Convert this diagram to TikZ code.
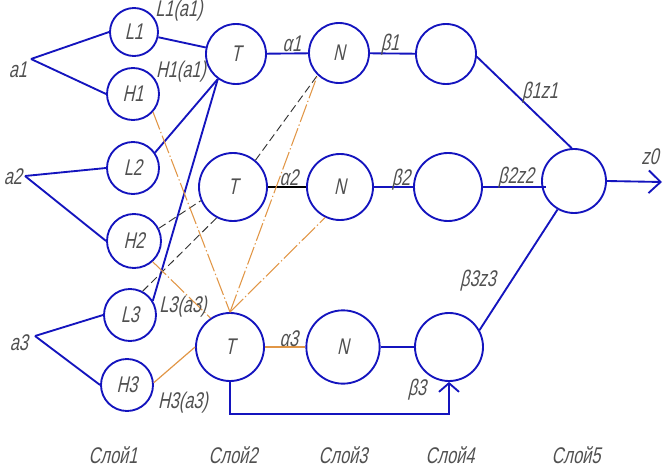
\documentclass[tikz,border=0pt]{standalone}
\usepackage{fontspec}
\setmainfont{Liberation Sans}
\newfontfamily\gost[FakeSlant=0.22,FakeStretch=0.72]{Liberation Sans}
\usetikzlibrary{arrows.meta}
\definecolor{lblue}{RGB}{20,20,190}
\definecolor{lorange}{RGB}{225,150,70}
\definecolor{ltext}{RGB}{80,80,80}
\begin{document}
\begin{tikzpicture}[x=0.75pt,y=-0.75pt,
  every node/.style={font=\gost\fontsize{17}{18}\selectfont, text=ltext},
  nd/.style={circle, draw=lblue, line width=1.4pt, inner sep=0pt},
  bl/.style={draw=lblue, line width=1.4pt},
  bk/.style={draw=black, line width=0.9pt},
  bkdash/.style={draw=black!80, line width=0.7pt, dash pattern=on 6pt off 3pt},
  ordash/.style={draw=lorange, line width=0.8pt, dash pattern=on 14pt off 2pt on 1pt off 2pt},
  orsolid/.style={draw=lorange, line width=0.9pt},
  lbl/.style={inner sep=0pt},
  barb/.style={-{Straight Barb[length=9pt,width=17pt,line width=1.4pt]}},
  barbsm/.style={-{Straight Barb[length=6.5pt,width=15pt,line width=1.4pt]}}
]
\useasboundingbox (0,0) rectangle (665,471);

% layer 1
\node[nd, minimum size=36pt] (L1) at (134,32) {L1};
\node[nd, minimum size=39pt] (H1) at (133,94) {H1};
\node[nd, minimum size=39pt] (L2) at (133,168) {L2};
\node[nd, minimum size=40.5pt] (H2) at (134,241) {H2};
\node[nd, minimum size=39pt] (L3) at (130,315) {L3};
\node[nd, minimum size=39pt] (H3) at (127,385) {H3};
% layer 2
\node[nd, minimum size=45pt] (T1) at (236,54) {T};
\node[nd, minimum size=51pt] (T2) at (233,187) {T};
\node[nd, minimum size=51pt] (T3) at (230,347) {T};
% layer 3
\node[nd, minimum size=45pt] (N1) at (339,53) {N};
\node[nd, minimum size=49.5pt] (N2) at (340,187) {N};
\node[nd, minimum size=55pt] (N3) at (343,347) {N};
% layer 4
\node[nd, minimum size=45pt] (C1) at (446,54) {};
\node[nd, minimum size=51pt] (C2) at (448,187) {};
\node[nd, minimum size=51pt] (C3) at (449,347) {};
% layer 5
\node[nd, minimum size=48pt] (C5) at (574,181) {};

% input points
\coordinate (a1) at (31,59);
\coordinate (a2) at (25,176);
\coordinate (a3) at (35,336);
\coordinate (z0) at (662,182);
\coordinate (fb) at (449,414);

\draw[bl] (a1) -- (L1.west);
\draw[bl] (a1) -- (H1.west);
\draw[bl] (a2) -- (L2.west);
\draw[bl] (a2) -- (H2.west);
\draw[bl] (a3) -- (L3.west);
\draw[bl] (a3) -- (H3.west);

% layer1 -> layer2
\draw[bl] (L1) -- (T1);
\draw[bl] (L2.35) -- (T1.234);
\draw[bl] (L3.32) -- (T1.234);
\draw[bkdash] (H2.27) -- (T2.203);
\draw[bkdash] (L3.62) -- (T2.242);
\draw[ordash] (H1.-42) -- (T3.north);
\draw[ordash] (H2.-48) -- (T3.124);
\draw[orsolid] (H3.5) -- (T3.west);

% layer2 -> layer3
\draw[bl] (T1) -- (N1);
\draw[bk] (T2) -- (N2);
\draw[orsolid] (T3) -- (N3);
\draw[bkdash] (T2.50) -- (N1.226);
\draw[ordash] (T3.north) -- (N1.226);
\draw[ordash] (T3.north) -- (N2.244);

% layer3 -> layer4
\draw[bl] (N1) -- (C1);
\draw[bl] (N2) -- (C2);
\draw[bl] (N3) -- (C3);

% layer4 -> layer5
\draw[bl] (C1.-5) -- (C5.94);
\draw[bl] (C2.east) -- ([xshift=4pt]C2.east -| C5.west);
\draw[bl] (C3.29) -- (C5.240);
\draw[bl, barb] (C5.east) -- (z0);

% feedback
\draw[bl, barbsm] (T3.south) |- (fb) -- (C3.south);

% labels
\node[lbl] (ta1) at (18,70) {a1};
\node[lbl] (ta2) at (13,177) {a2};
\node[lbl] (ta3) at (19,343) {a3};
\node[lbl] (tL1) at (179,11) {L1(a1)};
\node[lbl] (tH1) at (181,72) {H1(a1)};
\node[lbl] (tL3) at (183,307) {L3(a3)};
\node[lbl] (tH3) at (183,403) {H3(a3)};
\node[lbl] (tal1) at (292,44) {α1};
\node[lbl] (tal2) at (289,178) {α2};
\node[lbl] (tal3) at (289,339) {α3};
\node[lbl] (tb1) at (390,45) {β1};
\node[lbl] (tb2) at (401,180) {β2};
\node[lbl] (tb1z1) at (540,93) {β1z1};
\node[lbl] (tb2z2) at (516,178) {β2z2};
\node[lbl] (tb3z3) at (478,281) {β3z3};
\node[lbl] (tb3) at (417,390) {β3};
\node[lbl] (tz0) at (650,157) {z0};

\node[lbl] (s1) at (113,455) {Слой1};
\node[lbl] (s2) at (233,455) {Слой2};
\node[lbl] (s3) at (343,455) {Слой3};
\node[lbl] (s4) at (450,455) {Слой4};
\node[lbl] (s5) at (576,455) {Слой5};
\end{tikzpicture}
\end{document}
